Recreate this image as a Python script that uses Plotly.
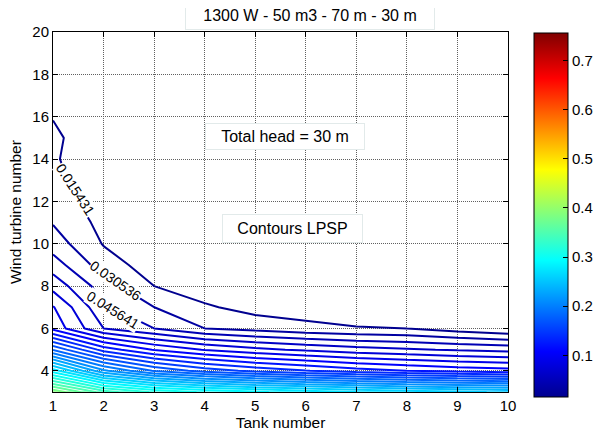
import plotly.graph_objects as go

# ---- data ----
tanks = [1, 2, 3, 4, 5, 6, 7, 8, 9, 10]
turbines = list(range(2, 21))

# LPSP values, one list per wind-turbine count (columns = tank number 1..10)
lpsp_w02 = [0.771, 0.70, 0.66, 0.63, 0.61, 0.59, 0.575, 0.56, 0.55, 0.54]
lpsp_w03 = [0.39, 0.34, 0.315, 0.30, 0.29, 0.28, 0.272, 0.265, 0.26, 0.255]
lpsp_w04 = [0.28, 0.215, 0.18, 0.16, 0.147, 0.137, 0.128, 0.121, 0.116, 0.112]
lpsp_w05 = [0.18, 0.13, 0.105, 0.09, 0.08, 0.073, 0.067, 0.063, 0.059, 0.056]
lpsp_w06 = [0.101, 0.0608, 0.0457, 0.0306, 0.025, 0.020, 0.0165, 0.01545, 0.008, 0.002]
lpsp_w07 = [0.0921, 0.0483, 0.0306, 0.0175, 0.010, 0.0075, 0.005, 0.004, 0.0033, 0.0028]
lpsp_w08 = [0.0705, 0.0378, 0.01545, 0.007, 0.006, 0.0045, 0.0037, 0.003, 0.0026, 0.0023]
lpsp_w09 = [0.0530, 0.0230, 0.0078, 0.006, 0.005, 0.004, 0.0033, 0.0028, 0.0024, 0.0021]
lpsp_w10 = [0.0382, 0.0145, 0.006, 0.005, 0.0045, 0.0037, 0.003, 0.0025, 0.0022, 0.0019]
lpsp_w11 = [0.0296, 0.0107, 0.005, 0.0045, 0.004, 0.0033, 0.0028, 0.0023, 0.002, 0.0017]
lpsp_w12 = [0.024, 0.0068, 0.0045, 0.004, 0.0035, 0.003, 0.0025, 0.002, 0.0018, 0.0015]
lpsp_w13 = [0.020, 0.0047, 0.004, 0.0035, 0.003, 0.0025, 0.002, 0.0017, 0.0015, 0.0013]
lpsp_w14 = [0.0172, 0.0043, 0.0035, 0.003, 0.0025, 0.002, 0.0017, 0.0015, 0.0013, 0.0011]
lpsp_w15 = [0.0165, 0.0115, 0.006, 0.0045, 0.0033, 0.0025, 0.002, 0.0016, 0.0014, 0.0012]
lpsp_w16 = [0.0152, 0.009, 0.005, 0.004, 0.003, 0.0022, 0.0018, 0.0014, 0.0012, 0.001]
lpsp_w17 = [0.012, 0.007, 0.0045, 0.0035, 0.0025, 0.002, 0.0015, 0.0012, 0.001, 0.0008]
lpsp_w18 = [0.010, 0.006, 0.004, 0.003, 0.002, 0.0015, 0.0012, 0.001, 0.0008, 0.0006]
lpsp_w19 = [0.008, 0.005, 0.0035, 0.0025, 0.0018, 0.0012, 0.001, 0.0008, 0.0006, 0.0004]
lpsp_w20 = [0.006, 0.004, 0.003, 0.002, 0.0015, 0.001, 0.0008, 0.0006, 0.0005, 0.0003]

level_start = 0.015431
level_step = 0.015105
level_end = 0.7556

label_values = ["0.015431", "0.030536", "0.045641"]
x_ticks = [1, 2, 3, 4, 5, 6, 7, 8, 9, 10]
y_ticks = [4, 6, 8, 10, 12, 14, 16, 18, 20]
cbar_ticks = [0.1, 0.2, 0.3, 0.4, 0.5, 0.6, 0.7]

z = [lpsp_w02, lpsp_w03, lpsp_w04, lpsp_w05, lpsp_w06, lpsp_w07, lpsp_w08,
     lpsp_w09, lpsp_w10, lpsp_w11, lpsp_w12, lpsp_w13, lpsp_w14, lpsp_w15,
     lpsp_w16, lpsp_w17, lpsp_w18, lpsp_w19, lpsp_w20]

jet = [[0.0, "rgb(0,0,143)"], [0.125, "rgb(0,0,255)"], [0.375, "rgb(0,255,255)"],
       [0.625, "rgb(255,255,0)"], [0.875, "rgb(255,0,0)"], [1.0, "rgb(128,0,0)"]]

FONT = "Arial, Liberation Sans, sans-serif"
FS = 15

fig = go.Figure()
fig.add_trace(go.Contour(
    x=tanks, y=turbines, z=z,
    contours=dict(coloring="lines", start=level_start, end=level_end,
                  size=level_step, showlabels=False),
    line=dict(width=2, smoothing=0),
    colorscale=jet, zmin=level_start, zmax=level_end, zauto=False,
    showscale=False, hoverinfo="skip",
))

# colour bar (continuous jet, like MATLAB's colorbar)
fig.add_trace(go.Scatter(
    x=[None], y=[None], mode="markers", showlegend=False,
    marker=dict(color=[level_start], colorscale=jet, cmin=level_start,
                cmax=level_end, showscale=True,
                colorbar=dict(x=1.057, xanchor="left", xpad=0,
                              y=0.4917, yanchor="middle", ypad=0,
                              lenmode="pixels", len=364,
                              thicknessmode="pixels", thickness=34,
                              outlinecolor="black", outlinewidth=1,
                              ticks="inside", ticklen=5, tickcolor="black",
                              tickvals=cbar_ticks,
                              ticktext=[f"{v:.1f}" for v in cbar_ticks],
                              tickfont=dict(family=FONT, size=FS, color="black"))),
))

# contour labels (manual clabel in the original)
label_pos = [(1.45, 12.55, 57), (2.245, 8.22, 35), (2.19, 6.89, 32)]
for txt, (lx, ly, ang) in zip(label_values, label_pos):
    fig.add_annotation(x=lx, y=ly, xref="x", yref="y", text=txt, showarrow=False,
                       textangle=ang, bgcolor="white", borderpad=0,
                       font=dict(family=FONT, size=14, color="black"))

box_border = "#e2eaea"
fig.add_annotation(x=5.585, y=15.07, xref="x", yref="y", text="Total head = 30 m",
                   showarrow=False, bgcolor="white", bordercolor=box_border,
                   borderwidth=1, borderpad=4, width=150, height=17,
                   font=dict(family=FONT, size=16, color="black"))
fig.add_annotation(x=5.73, y=10.71, xref="x", yref="y", text="Contours LPSP",
                   showarrow=False, bgcolor="white", bordercolor=box_border,
                   borderwidth=1, borderpad=4, width=131, height=19,
                   font=dict(family=FONT, size=16, color="black"))
fig.add_annotation(x=0.5648, y=1.0472, xref="paper", yref="paper",
                   xanchor="center", yanchor="middle",
                   text="1300 W - 50 m3 - 70 m - 30 m", showarrow=False,
                   bgcolor="white", bordercolor=box_border, borderwidth=1,
                   borderpad=4, width=240, height=20,
                   font=dict(family=FONT, size=16, color="black"))
# y-axis title placed as a rotated annotation so it can sit close to the edge
fig.add_annotation(x=-0.0835, y=0.5, xref="paper", yref="paper",
                   xanchor="center", yanchor="middle", textangle=-90,
                   text="Wind turbine number", showarrow=False,
                   font=dict(family=FONT, size=15.5, color="black"))

axis_common = dict(showline=True, linecolor="black", linewidth=1, mirror="allticks",
                   ticks="inside", ticklen=5, tickcolor="black", automargin=False,
                   showgrid=True, gridcolor="#606060", griddash="1px,1px", gridwidth=1,
                   zeroline=False, tickfont=dict(family=FONT, size=FS, color="black"))

fig.update_xaxes(range=[1, 10], tickvals=x_ticks,
                 title=dict(text="Tank number", standoff=2,
                            font=dict(family=FONT, size=15.5, color="black")),
                 **axis_common)
fig.update_yaxes(range=[3, 20], tickvals=y_ticks, **axis_common)

# the page body adds an 8 px offset, so the figure is 8 px smaller each way
fig.update_layout(width=593, height=425,
                  margin=dict(l=45, r=93, t=24, b=41, autoexpand=False),
                  paper_bgcolor="white", plot_bgcolor="white", showlegend=False,
                  font=dict(family=FONT, color="black"))

fig.write_html("out.html")
